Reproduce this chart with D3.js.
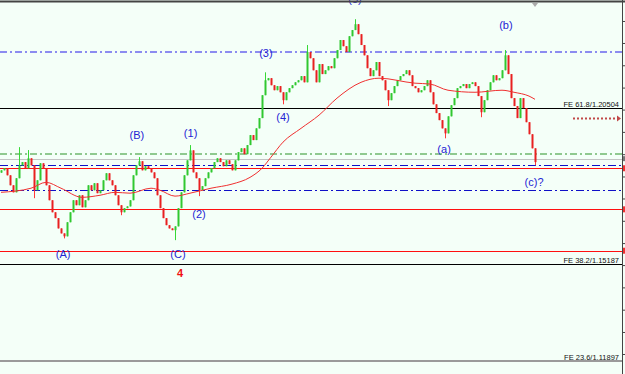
<!DOCTYPE html>
<html>
<head>
<meta charset="utf-8">
<script src="https://cdn.jsdelivr.net/npm/d3@7"></script>
<style>
  html, body { margin: 0; padding: 0; background: #f4fff8; }
  svg { display: block; }
</style>
</head>
<body>
<svg id="canvas" width="625" height="374"></svg>
<script>
// closes, in pips (1.1838 -> 11838)
const closes = [
  11838, 11845, 11821, 11787, 11763, 11811, 11855, 11866, 11845, 11879,
  11855, 11770, 11804, 11862, 11845, 11787, 11736, 11695, 11675, 11640,
  11623, 11613, 11661, 11695, 11736, 11719, 11753, 11712, 11736, 11787,
  11770, 11794, 11760, 11770, 11804, 11828, 11804, 11787, 11753, 11719,
  11695, 11709, 11715, 11736, 11821, 11855, 11869, 11838, 11852, 11845,
  11831, 11811, 11753, 11709, 11675, 11651, 11640, 11634, 11647, 11709,
  11763, 11821, 11872, 11906, 11831, 11811, 11770, 11784, 11811, 11831,
  11845, 11866, 11879, 11866, 11852, 11872, 11859, 11838, 11872, 11900,
  11913, 11893, 11924, 11958, 11941, 11981, 12016, 12094, 12145, 12152,
  12128, 12111, 12125, 12104, 12077, 12104, 12118, 12128, 12138, 12145,
  12159, 12138, 12241, 12220, 12179, 12138, 12200, 12166, 12179, 12193,
  12186, 12220, 12248, 12282, 12261, 12241, 12295, 12316, 12336, 12302,
  12265, 12230, 12186, 12159, 12179, 12207, 12159, 12145, 12111, 12077,
  12101, 12125, 12145, 12159, 12166, 12179, 12162, 12125, 12118, 12104,
  12111, 12125, 12145, 12104, 12063, 12033, 12009, 11981, 11964, 12022,
  12060, 12084, 12118, 12125, 12132, 12118, 12132, 12138, 12125, 12091,
  12036, 12077, 12111, 12138, 12162, 12145, 12152, 12179, 12230, 12166,
  12084, 12057, 12016, 12084, 12050, 12002, 11961, 11913, 11866
];
const firstOpen = 11830;

// wick extremes that stick out of the bodies: [candle, pips]
const highs = [[6, 11917], [9, 11907], [46, 11883], [63, 11924], [88, 12172],
  [102, 12265], [118, 12353], [168, 12248]];
const lows = [[11, 11743], [21, 11606], [40, 11685], [58, 11600], [66, 11750],
  [94, 12063], [129, 12057], [148, 11947], [160, 12019], [178, 11855]];

// moving average: [candle, pips]
const maPoints = [
  [0, 11763], [10, 11777], [15, 11797], [20, 11777], [27, 11746], [33, 11753],
  [38, 11763], [43, 11760], [50, 11777], [53, 11770], [58, 11750], [63, 11760],
  [70, 11777], [77, 11791], [83, 11814], [87, 11845], [90, 11883], [94, 11934],
  [100, 11981], [106, 12026], [112, 12084], [120, 12138], [126, 12152],
  [138, 12135], [143, 12132], [149, 12111], [158, 12104], [167, 12111],
  [171, 12104], [176, 12091], [178, 12080]
];

// levels
const fibPrices = [1.20504, 1.15187, 1.11897];
const fibLabels = ["FE 61.8/1.20504", "FE 38.2/1.15187", "FE 23.6/1.11897"];
const lightBlueLevels = [1.2241];
const greenLevels = [1.1892];
const grayLevels = [1.1876];
const blueLevels = [1.1855, 1.1772];
const redLevels = [1.1845, 1.1705, 1.1564];
const axisTicks = [1.2347, 1.2272, 1.2196, 1.2120, 1.2045, 1.1969, 1.1893, 1.1817,
  1.1742, 1.1666, 1.1590, 1.1515, 1.1439, 1.1363, 1.1287, 1.1212];

// wave labels: [text, candle, price]
const waveLabels = [
  ["(5)", 118, 1.2421], ["(3)", 88.3, 1.2237], ["(4)", 94, 1.2019],
  ["(b)", 168.3, 1.2333], ["(B)", 45.3, 1.1958], ["(1)", 63.2, 1.1965],
  ["(2)", 66, 1.1688], ["(A)", 20.7, 1.1552], ["(C)", 59, 1.1552],
  ["(a)", 147.7, 1.1910], ["(c)?", 177.7, 1.1797]
];
const degreeLabel = ["4", 59.7, 1.1487];
const arrowPrice = 1.2016;

const svg = d3.select("#canvas");
const W = 625, H = 374, axisX = 622;

const x = d3.scaleLinear().domain([0, closes.length - 1]).range([1, 535]);
const y = d3.scaleLinear().domain([1.15187, 1.20504]).range([264, 108]);
const p = v => v / 10000;

svg.append("rect").attr("width", W).attr("height", H).attr("fill", "#f4fff8");

function hline(price, color, width, dash) {
    const yy = Math.round(y(price)) + (width % 2 ? 0.5 : 0);
    const l = svg.append("line")
        .attr("x1", 0).attr("x2", axisX)
        .attr("y1", yy).attr("y2", yy)
        .attr("stroke", color).attr("stroke-width", width);
    if (dash) l.attr("stroke-dasharray", dash);
}

// level lines
lightBlueLevels.forEach(v => hline(v, "#8c8cf0", 2, "7,3,2,3"));
greenLevels.forEach(v => hline(v, "#8fc98f", 2, "7,3,2,3"));
grayLevels.forEach(v => hline(v, "#c4c4c4", 1));
blueLevels.forEach(v => hline(v, "#1010c8", 1, "8,3,2,3"));
redLevels.forEach(v => hline(v, "#ff1010", 1));
hline(fibPrices[0], "#000", 1);
hline(fibPrices[1], "#000", 1);
hline(fibPrices[2], "#9a9a9a", 2);

// fib labels
fibPrices.forEach((v, i) => {
    svg.append("text")
        .attr("x", 619).attr("y", Math.round(y(v)) - 1.5)
        .attr("text-anchor", "end")
        .attr("font-family", "Liberation Sans Narrow, Arial Narrow, sans-serif")
        .attr("font-size", 7.5)
        .attr("fill", "#111")
        .text(fibLabels[i]);
});

// candles
const hiMap = new Map(highs), loMap = new Map(lows);
const candles = closes.map((c, i) => {
    const o = i === 0 ? firstOpen : closes[i - 1];
    return {
        i, o, c,
        h: Math.max(o, c, hiMap.get(i) || 0),
        l: Math.min(o, c, loMap.get(i) || 99999)
    };
});

const g = svg.append("g");
candles.forEach(d => {
    const up = d.c >= d.o;
    const cx = Math.round(x(d.i)) + 0.5;
    g.append("line")
        .attr("x1", cx).attr("x2", cx)
        .attr("y1", y(p(d.h))).attr("y2", y(p(d.l)))
        .attr("stroke", up ? "#36d836" : "#ff3a3a")
        .attr("stroke-width", 1);
    const top = y(p(Math.max(d.o, d.c)));
    const bot = y(p(Math.min(d.o, d.c)));
    g.append("rect")
        .attr("x", cx - 1).attr("width", 2)
        .attr("y", top).attr("height", Math.max(1, bot - top))
        .attr("fill", up ? "#30c830" : "#e82020");
});

// moving average
svg.append("path")
    .datum(maPoints)
    .attr("fill", "none")
    .attr("stroke", "#f03030")
    .attr("stroke-width", 1)
    .attr("d", d3.line().curve(d3.curveMonotoneX)
        .x(d => x(d[0])).y(d => y(p(d[1]))));

// wave labels
waveLabels.forEach(d => {
    svg.append("text")
        .attr("x", x(d[1])).attr("y", y(d[2]))
        .attr("dy", "0.35em")
        .attr("text-anchor", "middle")
        .attr("font-family", "Liberation Sans, Arial, sans-serif")
        .attr("font-size", 11)
        .attr("fill", "#2424d4")
        .text(d[0]);
});
svg.append("text")
    .attr("x", x(degreeLabel[1])).attr("y", y(degreeLabel[2]))
    .attr("dy", "0.35em")
    .attr("text-anchor", "middle")
    .attr("font-family", "Liberation Sans, Arial, sans-serif")
    .attr("font-size", 11).attr("font-weight", "bold")
    .attr("fill", "#f01010")
    .text(degreeLabel[0]);

// dotted arrow
const ay = Math.round(y(arrowPrice)) + 0.5;
svg.append("line")
    .attr("x1", 573).attr("x2", 617).attr("y1", ay).attr("y2", ay)
    .attr("stroke", "#c04848").attr("stroke-width", 2)
    .attr("stroke-dasharray", "2,2");
svg.append("path")
    .attr("d", `M617,${ay - 3}L621,${ay}L617,${ay + 3}Z`)
    .attr("fill", "#c04848");

// top border and right axis
svg.append("line").attr("x1", 0).attr("x2", W).attr("y1", 1.5).attr("y2", 1.5)
    .attr("stroke", "#444").attr("stroke-width", 2);
svg.append("line").attr("x1", axisX + 0.5).attr("x2", axisX + 0.5)
    .attr("y1", 0).attr("y2", H).attr("stroke", "#444").attr("stroke-width", 1);
const axis = svg.append("g")
    .attr("transform", `translate(${axisX + 0.5},0)`)
    .call(d3.axisRight(y).tickValues(axisTicks).tickSize(3).tickFormat(""));
axis.select(".domain").remove();
axis.selectAll(".tick line").attr("stroke", "#444");

// price markers at the right edge
redLevels.forEach(v => {
    svg.append("rect").attr("x", axisX + 1).attr("width", 3)
        .attr("y", y(v) - 3).attr("height", 6).attr("fill", "#f03030");
});
svg.append("rect").attr("x", axisX + 1).attr("width", 3)
    .attr("y", y(grayLevels[0]) - 3).attr("height", 5).attr("fill", "#777");

// shift marker
svg.append("path").attr("d", "M532,3L538,3L535,7Z").attr("fill", "#aaa");
</script>
</body>
</html>
